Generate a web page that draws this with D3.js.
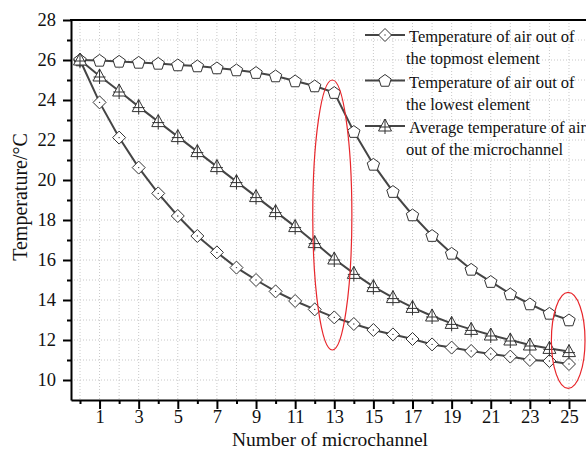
<!DOCTYPE html>
<html lang="en">
<head>
  <meta charset="UTF-8" />
  <title>Temperature of air out of microchannels</title>
  <script src="https://d3js.org/d3.v7.min.js"></script>
  <style>
    body { margin: 0; background: #fff; }
    svg { display: block; }
    text { font-family: 'Liberation Serif', 'DejaVu Serif', serif; fill: #111; }
  </style>
</head>
<body>
<svg id="chart" width="586" height="452"></svg>
<script>
  const channels = d3.range(0, 26);
  const topmost = [26.0, 23.88, 22.12, 20.62, 19.33, 18.2, 17.2, 16.38, 15.62, 15.0, 14.43, 13.95,
    13.53, 13.13, 12.8, 12.5, 12.28, 12.05, 11.78, 11.62, 11.45, 11.3, 11.17, 11.0, 10.95, 10.8];
  const lowest = [26.0, 25.98, 25.93, 25.88, 25.83, 25.75, 25.7, 25.6, 25.5, 25.37, 25.2, 24.95,
    24.7, 24.37, 22.42, 20.78, 19.42, 18.25, 17.22, 16.33, 15.53, 14.92, 14.3, 13.8, 13.33, 13.0];
  const average = [26.0, 25.2, 24.45, 23.67, 22.92, 22.17, 21.42, 20.67, 19.92, 19.17, 18.42, 17.67,
    16.87, 16.05, 15.33, 14.67, 14.12, 13.63, 13.2, 12.83, 12.53, 12.25, 12.0, 11.75, 11.58, 11.42];
  const xLabels = [1, 3, 5, 7, 9, 11, 13, 15, 17, 19, 21, 23, 25];
  const yLabels = [10, 12, 14, 16, 18, 20, 22, 24, 26, 28];
  const legendLines = [
    ["Temperature of air out of", "the topmost element"],
    ["Temperature of air out of", "the lowest element"],
    ["Average temperature of air", "out of the microchannel"]
  ];
  // highlighted regions: [cx, cy, rx, ry] in data units
  const highlights = [[12.9, 18.25, 1.0, 6.75], [24.96, 11.98, 0.86, 2.4]];

  const svg = d3.select("#chart");
  const pLeft = 71, pRight = 586, pTop = 20, pBottom = 400;
  const x = d3.scaleLinear().domain([-0.46, 25.87]).range([pLeft, pRight]);
  const y = d3.scaleLinear().domain([9, 28]).range([pBottom, pTop]);

  // grid
  const grid = svg.append("g").attr("stroke", "#c8c8c8").attr("stroke-width", 1).attr("stroke-dasharray", "1,2");
  grid.selectAll("line.v").data(channels).enter().append("line")
    .attr("x1", d => x(d)).attr("x2", d => x(d)).attr("y1", pTop).attr("y2", pBottom);
  grid.selectAll("line.h").data(d3.range(10, 28)).enter().append("line")
    .attr("x1", pLeft).attr("x2", pRight).attr("y1", d => y(d)).attr("y2", d => y(d));

  // axes
  svg.append("g").attr("transform", `translate(0,${pBottom})`)
    .call(d3.axisBottom(x).tickValues(xLabels).tickSize(9).tickPadding(1).tickSizeOuter(0));
  svg.append("g").attr("transform", `translate(0,${pBottom})`)
    .call(d3.axisBottom(x).tickValues(d3.range(0, 26, 2)).tickSize(4).tickFormat("").tickSizeOuter(0))
    .select(".domain").remove();
  svg.append("g").attr("transform", `translate(${pLeft},0)`)
    .call(d3.axisLeft(y).tickValues(yLabels).tickSize(8).tickPadding(7).tickSizeOuter(0));
  svg.append("g").attr("transform", `translate(${pLeft},0)`)
    .call(d3.axisLeft(y).tickValues(d3.range(11, 28, 2)).tickSize(4).tickFormat("").tickSizeOuter(0))
    .select(".domain").remove();
  svg.selectAll(".tick line").attr("stroke", "#000").attr("stroke-width", 2);
  svg.selectAll(".domain").attr("stroke", "#000").attr("stroke-width", 2);
  svg.selectAll(".tick text").style("font-size", "18.5px").attr("fill", "#111");
  svg.append("line").attr("x1", pLeft - 1).attr("x2", pRight).attr("y1", pTop).attr("y2", pTop)
    .attr("stroke", "#000").attr("stroke-width", 2);

  svg.append("text").attr("x", 330).attr("y", 446).attr("text-anchor", "middle")
    .style("font-size", "19.5px").text("Number of microchannel");
  svg.append("text").attr("transform", "translate(27,197) rotate(-90)").attr("text-anchor", "middle")
    .style("font-size", "20px").text("Temperature/°C");

  // markers
  function diamond(g) {
    g.append("path").attr("d", "M0,-6.5L6.5,0L0,6.5L-6.5,0Z").attr("fill", "#fff").attr("stroke", "#333").attr("stroke-width", 1);
    g.append("circle").attr("r", 0.7).attr("fill", "#333");
  }
  function pentagon(g) {
    const pts = d3.range(5).map(i => {
      const a = -Math.PI / 2 + i * 2 * Math.PI / 5;
      return [6.5 * Math.cos(a), 6.5 * Math.sin(a) + 0.5];
    });
    g.append("path").attr("d", "M" + pts.join("L") + "Z").attr("fill", "#fff").attr("stroke", "#333").attr("stroke-width", 1);
  }
  function triangle(g) {
    g.append("path").attr("d", "M0,-7L6.5,5L-6.5,5Z").attr("fill", "#fff").attr("stroke", "#333").attr("stroke-width", 1);
    g.append("path").attr("d", "M0,-7V8M-6,1H6").attr("stroke", "#333").attr("stroke-width", 1);
  }

  const series = [
    { values: topmost, marker: diamond },
    { values: lowest, marker: pentagon },
    { values: average, marker: triangle }
  ];
  const line = d3.line().x((d, i) => x(channels[i])).y(d => y(d));
  series.forEach(s => {
    svg.append("path").datum(s.values).attr("d", line)
      .attr("fill", "none").attr("stroke", "#454545").attr("stroke-width", 2);
  });
  series.forEach(s => {
    svg.append("g").selectAll("g").data(s.values).enter().append("g")
      .attr("transform", (d, i) => `translate(${x(channels[i])},${y(d)})`)
      .each(function () { s.marker(d3.select(this)); });
  });

  // legend
  const legend = svg.append("g").attr("transform", "translate(365,35)");
  legendLines.forEach((lines, i) => {
    const row = legend.append("g").attr("transform", `translate(0,${i * 45.5})`);
    row.append("line").attr("x1", 0).attr("x2", 40).attr("stroke", "#454545").attr("stroke-width", 2);
    const m = row.append("g").attr("transform", "translate(20,0)");
    series[i].marker(m);
    row.append("text").attr("x", 44).attr("y", 7).style("font-size", "16.5px").text(lines[0]);
    row.append("text").attr("x", 41).attr("y", 29).style("font-size", "16.5px").text(lines[1]);
  });

  // red ellipses
  svg.append("g").selectAll("ellipse").data(highlights).enter().append("ellipse")
    .attr("cx", d => x(d[0])).attr("cy", d => y(d[1]))
    .attr("rx", d => x(d[0] + d[2]) - x(d[0])).attr("ry", d => y(d[1] - d[3]) - y(d[1]))
    .attr("fill", "none").attr("stroke", "#e8262b").attr("stroke-width", 1.2);
</script>
</body>
</html>
